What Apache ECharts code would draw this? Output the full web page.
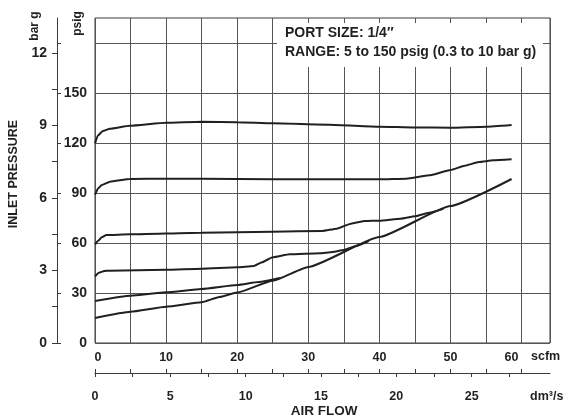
<!DOCTYPE html>
<html>
<head>
<meta charset="utf-8">
<script src="https://cdn.jsdelivr.net/npm/echarts@6/dist/echarts.min.js"></script>
<style>
html,body{margin:0;padding:0;background:#fff;}
#chart{width:567px;height:415px;}
</style>
</head>
<body>
<div id="chart"></div>
<script>
// ---- data (flow in scfm, inlet pressure in psig) ----
const flow120 = [0, 0.4, 1.1, 2.1, 4.9, 10, 15, 20, 25, 33, 40, 45, 50, 55, 58.6];
const psig120 = [119.8, 124.5, 127.2, 128.6, 130.4, 132.2, 132.8, 132.4, 131.8, 131, 129.8, 129.3, 129.2, 129.8, 130.8];

const flow90 = [0, 0.45, 0.95, 2.1, 4.9, 10, 20, 30, 40, 43.8, 47, 50, 52, 54, 56, 58.6];
const psig90 = [89, 92.8, 94.8, 96.8, 98.4, 98.6, 98.4, 98.2, 98.2, 98.6, 100.6, 103.8, 106.4, 108.6, 109.6, 110.2];

const flow60 = [0, 0.45, 0.95, 1.6, 4.9, 15, 25, 32, 34, 36, 38, 40, 43, 45, 47, 49];
const psig60 = [59.2, 61.4, 63.4, 64.8, 65.2, 66.2, 66.8, 67.2, 68.6, 71.6, 73.2, 73.4, 74.6, 76, 78.2, 80.5];

const flow40 = [0, 0.55, 1.3, 2, 10, 15, 20, 22.3, 23.5, 25, 27.4, 31.6, 33.4, 35, 36.7, 38.5];
const psig40 = [40, 42.2, 43.2, 43.4, 44, 44.6, 45.4, 46.2, 48.5, 51.4, 53.2, 53.8, 54.6, 55.8, 58.2, 61.2];

const flow25 = [0, 5, 10, 15, 20, 23, 26];
const psig25 = [25.2, 28.4, 30.4, 32.4, 34.8, 36.6, 39];

const flow15 = [0, 5, 10, 15, 17.5, 20, 25, 30, 40, 50, 58.6];
const psig15 = [15, 18.8, 21.8, 24.5, 27.6, 30.3, 37.4, 45.6, 63.6, 82.2, 98.4];

// ---- axis ticks / labels ----
const scfmTicks = [0, 5, 10, 15, 20, 25, 30, 35, 40, 45, 50, 55, 60];
const scfmLabels = [0, 10, 20, 30, 40, 50, 60];
const dm3Ticks = [0, 2.5, 5, 7.5, 10, 12.5, 15, 17.5, 20, 22.5, 25, 27.5];
const dm3Labels = [0, 5, 10, 15, 20, 25];
const psigTicks = [0, 30, 60, 90, 120, 150, 180];
const psigLabels = [0, 30, 60, 90, 120, 150];
const barTicks = [0, 1.5, 3, 4.5, 6, 7.5, 9, 10.5, 12];
const barLabels = [0, 3, 6, 9, 12];

const SCFM_MAX = 64;
const PSIG_MAX = 195;
const DM3_PER_SCFM = 0.4719;
const PSI_PER_BAR = 14.5038;

const FONT = '"Liberation Sans", Arial, Helvetica, sans-serif';
const INK = '#231f20';
const GRID = '#555555';
const AXIS = '#3a3a3a';

function pairs(xs, ys) { return xs.map((x, i) => [x, ys[i]]); }

const curves = [
  pairs(flow120, psig120),
  pairs(flow90, psig90),
  pairs(flow60, psig60),
  pairs(flow40, psig40),
  pairs(flow25, psig25),
  pairs(flow15, psig15)
];

const chart = echarts.init(document.getElementById('chart'), null, {renderer: 'canvas'});

const labelBase = {fontFamily: FONT, fontWeight: 'bold', color: INK};

const option = {
  animation: false,
  backgroundColor: '#ffffff',
  grid: {left: 95, right: 17, top: 18, bottom: 72, show: true, borderColor: AXIS, borderWidth: 1, backgroundColor: 'transparent'},
  xAxis: [
    {
      type: 'value', min: 0, max: SCFM_MAX, interval: 5, position: 'bottom',
      axisLine: {show: false, onZero: false}, axisTick: {show: false},
      splitLine: {show: true, lineStyle: {color: GRID, width: 1}},
      axisLabel: Object.assign({}, labelBase, {
        fontSize: 12.5, margin: 8,
        showMaxLabel: false,
        formatter: v => scfmLabels.includes(v) ? (v === 60 ? '{r|60}' : (v === 0 ? '{l|0}' : String(v))) : '',
        rich: {
          r: {fontFamily: FONT, fontWeight: 'bold', fontSize: 12.5, color: INK, padding: [0, 20, 0, 0]},
          l: {fontFamily: FONT, fontWeight: 'bold', fontSize: 12.5, color: INK, padding: [0, 0, 0, 6]}
        }
      })
    },
    {
      type: 'value', min: 0, max: SCFM_MAX * DM3_PER_SCFM, position: 'bottom', offset: 30,
      axisLine: {show: true, onZero: false, lineStyle: {color: AXIS, width: 1}},
      axisTick: {show: true, length: 4, customValues: dm3Ticks, lineStyle: {color: AXIS}},
      splitLine: {show: false},
      axisLabel: Object.assign({}, labelBase, {fontSize: 12.5, margin: 17, customValues: dm3Labels})
    },
    {
      type: 'value', min: 0, max: SCFM_MAX, position: 'bottom', offset: 30,
      axisLine: {show: false, onZero: false},
      axisTick: {show: true, inside: true, length: 4, customValues: scfmTicks, lineStyle: {color: AXIS}},
      splitLine: {show: false},
      axisLabel: {show: false}
    }
  ],
  yAxis: [
    {
      type: 'value', min: 0, max: PSIG_MAX, interval: 30, position: 'left', offset: 38,
      axisLine: {show: true, onZero: false, lineStyle: {color: AXIS, width: 1}},
      axisTick: {show: true, inside: true, length: 4, customValues: psigTicks, lineStyle: {color: AXIS}},
      splitLine: {show: true, lineStyle: {color: GRID, width: 1}},
      axisLabel: Object.assign({}, labelBase, {fontSize: 14, inside: true, align: 'right', margin: 30, customValues: psigLabels})
    },
    {
      type: 'value', min: 0, max: PSIG_MAX / PSI_PER_BAR, position: 'left', offset: 38,
      axisLine: {show: false, onZero: false},
      axisTick: {show: true, length: 5, customValues: barTicks, lineStyle: {color: AXIS}},
      splitLine: {show: false},
      axisLabel: Object.assign({}, labelBase, {fontSize: 14, margin: 10, customValues: barLabels})
    }
  ],
  series: curves.map(d => ({
    type: 'line', data: d, xAxisIndex: 0, yAxisIndex: 0,
    smooth: 0.15, smoothMonotone: 'x', showSymbol: false, symbol: 'none',
    lineStyle: {color: INK, width: 2}, z: 5
  })),
  graphic: [
    {type: 'rect', shape: {x: 277, y: 23, width: 266, height: 44}, style: {fill: '#ffffff'}, z: 50},
    {type: 'text', x: 285, y: 33.5, z: 51, style: {text: 'PORT SIZE: 1/4\u2033', font: 'bold 14px ' + FONT, fill: INK, verticalAlign: 'middle', align: 'left'}},
    {type: 'text', x: 285, y: 52, z: 51, style: {text: 'RANGE: 5 to 150 psig (0.3 to 10 bar g)', font: 'bold 14px ' + FONT, fill: INK, verticalAlign: 'middle', align: 'left'}},
    {type: 'text', x: 34.5, y: 26, rotation: Math.PI / 2, z: 51, style: {text: 'bar g', font: 'bold 12px ' + FONT, fill: INK, verticalAlign: 'middle', align: 'center'}},
    {type: 'text', x: 77.5, y: 23.5, rotation: Math.PI / 2, z: 51, style: {text: 'psig', font: 'bold 12px ' + FONT, fill: INK, verticalAlign: 'middle', align: 'center'}},
    {type: 'text', x: 14, y: 174, rotation: Math.PI / 2, z: 51, style: {text: 'INLET PRESSURE', font: 'bold 12.5px ' + FONT, fill: INK, verticalAlign: 'middle', align: 'center'}},
    {type: 'text', x: 531, y: 357, z: 51, style: {text: 'scfm', font: 'bold 12.5px ' + FONT, fill: INK, verticalAlign: 'middle', align: 'left'}},
    {type: 'text', x: 530, y: 397, z: 51, style: {text: 'dm\u00b3/s', font: 'bold 12.5px ' + FONT, fill: INK, verticalAlign: 'middle', align: 'left'}},
    {type: 'text', x: 324, y: 411, z: 51, style: {text: 'AIR FLOW', font: 'bold 13.5px ' + FONT, fill: INK, verticalAlign: 'middle', align: 'center'}}
  ]
};
chart.setOption(option);
</script>
</body>
</html>
